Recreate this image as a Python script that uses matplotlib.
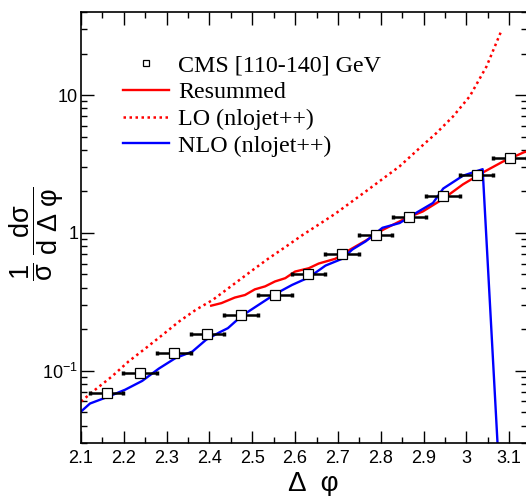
import numpy as np
import matplotlib
matplotlib.use("Agg")
import matplotlib.pyplot as plt
from matplotlib.ticker import MultipleLocator, LogLocator, FixedLocator, FixedFormatter, NullFormatter

plt.rcParams['font.family'] = ['Liberation Sans', 'DejaVu Sans']
plt.rcParams['mathtext.fontset'] = 'custom'
plt.rcParams['mathtext.rm'] = 'Liberation Sans'
plt.rcParams['mathtext.it'] = 'Liberation Sans'
plt.rcParams['mathtext.default'] = 'regular'

# CMS data, 110-140 GeV bin
cms_x = [2.160, 2.238, 2.317, 2.395, 2.474, 2.553, 2.631, 2.710, 2.788, 2.867, 2.945, 3.024, 3.102]
cms_y = [0.069, 0.097, 0.134, 0.186, 0.255, 0.356, 0.502, 0.70, 0.97, 1.31, 1.85, 2.64, 3.49]
cms_xerr = [0.039] * 13

# resummed prediction
res_x = [2.404, 2.428, 2.459, 2.483, 2.506, 2.530, 2.553, 2.577, 2.600, 2.632, 2.655, 2.694,
         2.726, 2.765, 2.804, 2.859, 2.898, 2.945, 2.992, 3.039, 3.086, 3.134, 3.1416]
res_y = [0.297, 0.31, 0.34, 0.355, 0.39, 0.41, 0.445, 0.47, 0.525, 0.555, 0.60, 0.65,
         0.75, 0.88, 1.05, 1.28, 1.43, 1.76, 2.25, 2.75, 3.3, 3.84, 3.9]

# LO (nlojet++)
lo_x = [2.100, 2.133, 2.172, 2.211, 2.251, 2.290, 2.329, 2.368, 2.407, 2.459, 2.498, 2.537,
        2.577, 2.616, 2.655, 2.694, 2.765, 2.844, 2.895, 2.930, 2.969, 3.008, 3.047, 3.080]
lo_y = [0.060, 0.073, 0.091, 0.117, 0.146, 0.182, 0.228, 0.277, 0.326, 0.43, 0.53, 0.65,
        0.79, 0.96, 1.15, 1.38, 2.0, 3.04, 4.24, 5.3, 7.0, 9.8, 16.1, 28.4]

# NLO (nlojet++)
nlo_x = [2.100, 2.121, 2.164, 2.203, 2.243, 2.282, 2.321, 2.360, 2.392, 2.423, 2.443, 2.475,
         2.514, 2.553, 2.593, 2.632, 2.671, 2.710, 2.734, 2.765, 2.804, 2.844, 2.883, 2.922,
         2.946, 2.992, 3.038, 3.0775]
nlo_y = [0.0507, 0.058, 0.0651, 0.073, 0.0846, 0.104, 0.124, 0.138, 0.168, 0.19, 0.204, 0.25,
         0.30, 0.36, 0.42, 0.476, 0.58, 0.65, 0.76, 0.87, 1.09, 1.18, 1.40, 1.65,
         2.1, 2.6, 2.9, 0.016]

fig = plt.figure(figsize=(5.26, 4.96), dpi=100)
ax = fig.add_axes([81 / 526, 53 / 496, 446 / 526, 431 / 496])

ax.errorbar(cms_x, cms_y, xerr=cms_xerr, fmt='none', ecolor='black', elinewidth=1.8,
            capsize=1.2, capthick=2.5, zorder=3)
ax.plot(res_x, res_y, color='#ff0000', lw=1.7, zorder=2)
ax.plot(lo_x, lo_y, color='#ff0000', lw=1.8, ls=(0, (1, 1.4)), zorder=2)
ax.plot(nlo_x, nlo_y, color='#0000ff', lw=1.7, zorder=2)
ax.plot(cms_x, cms_y, 's', ms=6.5, mfc='white', mec='black', mew=0.9, ls='none', zorder=4)

ax.set_yscale('log')
ax.set_xlim(2.1, 3.1416)
ax.set_ylim(0.03, 40)

xt = np.arange(2.1, 3.15, 0.1)
ax.set_xticks(xt)
ax.set_xticklabels(['%g' % round(v, 1) for v in xt])
ax.xaxis.set_minor_locator(MultipleLocator(0.05))
ax.yaxis.set_major_locator(FixedLocator([0.1, 1, 10]))
ax.yaxis.set_major_formatter(FixedFormatter(['10$^{-1}$', '1', '10']))
ax.yaxis.set_minor_locator(LogLocator(base=10, subs=np.arange(2, 10)))
ax.yaxis.set_minor_formatter(NullFormatter())

ax.tick_params(which='both', direction='in', top=True, right=True, labelsize=13, width=1.0)
ax.tick_params(which='major', length=9, pad=5)
ax.tick_params(axis='y', which='major', pad=2)
ax.tick_params(which='minor', length=4.5)
for s in ax.spines.values():
    s.set_linewidth(1.2)

ax.set_xlabel('Δ  φ', fontsize=20)
ax.xaxis.set_label_coords(0.52, -0.065)
ax.set_ylabel(r'$\dfrac{1}{\sigma}\;\dfrac{d\sigma}{d\ \Delta\ \varphi}$', fontsize=19.5)
ax.yaxis.set_label_coords(-0.034, 0.485)

# legend
h_data = ax.plot([], [], 's', ms=5, mfc='white', mec='black', mew=0.9)[0]
h_res = ax.plot([], [], color='#ff0000', lw=1.7)[0]
h_lo = ax.plot([], [], color='#ff0000', lw=1.8, ls=(0, (1, 1.4)))[0]
h_nlo = ax.plot([], [], color='#0000ff', lw=1.7)[0]
ax.legend([h_data, h_res, h_lo, h_nlo],
          ['CMS [110-140] GeV', 'Resummed', 'LO (nlojet++)', 'NLO (nlojet++)'],
          loc='upper left', bbox_to_anchor=(123 / 526, 1 - 55 / 496), bbox_transform=fig.transFigure,
          frameon=False, borderpad=0, borderaxespad=0, handlelength=1.9, handletextpad=0.4,
          labelspacing=0.2, prop={'family': 'Liberation Serif', 'size': 17.3})

fig.savefig('out.png', dpi=100)
